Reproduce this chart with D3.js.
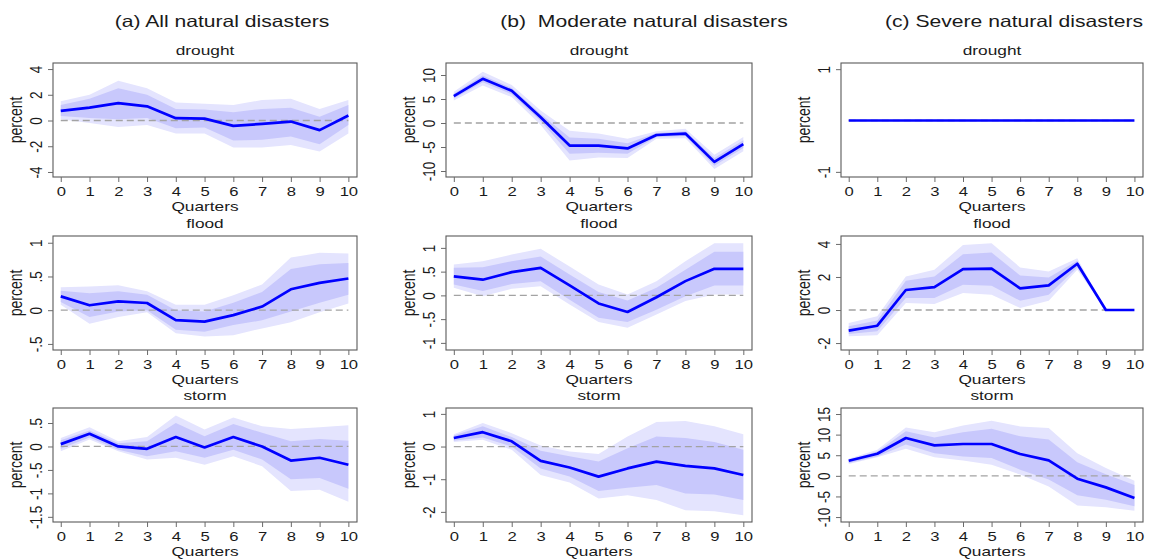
<!DOCTYPE html>
<html>
<head>
<meta charset="utf-8">
<script src="https://cdn.jsdelivr.net/npm/d3@7/dist/d3.min.js"></script>
<style>
    body { margin: 0; background: #fff; }
    svg text { font-family: "Liberation Sans", Arial, sans-serif; fill: #1a1a1a; }
</style>
</head>
<body>
<div id="chart"></div>
<script>
var quarters = [0, 1, 2, 3, 4, 5, 6, 7, 8, 9, 10];

var columnTitles = ['(a) All natural disasters', '(b)  Moderate natural disasters', '(c) Severe natural disasters'];
var rowTitles = ['drought', 'flood', 'storm'];

// (a) All natural disasters
var allDroughtIrf  = [0.75, 1.0, 1.35, 1.1, 0.18, 0.15, -0.42, -0.26, -0.08, -0.75, 0.39];
var allDroughtHi90 = [1.5, 2.0, 3.1, 2.5, 1.4, 1.3, 1.2, 1.6, 1.7, 0.9, 1.6];
var allDroughtHi68 = [1.2, 1.7, 2.5, 2.0, 0.9, 0.85, 0.65, 0.9, 1.0, 0.3, 1.2];
var allDroughtLo68 = [0.35, 0.2, 0.1, 0.2, -0.6, -0.55, -1.55, -1.5, -1.25, -1.85, -0.35];
var allDroughtLo90 = [0.1, -0.2, -0.5, -0.35, -1.0, -1.0, -2.1, -2.1, -1.9, -2.4, -1.0];

var allFloodIrf  = [0.205, 0.073, 0.13, 0.107, -0.147, -0.17, -0.073, 0.054, 0.31, 0.405, 0.47];
var allFloodHi90 = [0.34, 0.35, 0.37, 0.28, 0.08, 0.08, 0.22, 0.38, 0.78, 0.85, 0.84];
var allFloodHi68 = [0.29, 0.25, 0.28, 0.23, 0.0, -0.02, 0.11, 0.27, 0.61, 0.68, 0.70];
var allFloodLo68 = [0.12, -0.10, -0.02, 0.0, -0.29, -0.32, -0.22, -0.15, -0.02, 0.11, 0.23];
var allFloodLo90 = [0.08, -0.20, -0.10, -0.03, -0.34, -0.39, -0.37, -0.27, -0.18, -0.03, 0.10];

var allStormIrf  = [0.05, 0.27, 0.0, -0.05, 0.2, -0.02, 0.2, 0.0, -0.3, -0.24, -0.39];
var allStormHi90 = [0.18, 0.41, 0.11, 0.2, 0.66, 0.36, 0.62, 0.43, 0.37, 0.41, 0.45];
var allStormHi68 = [0.13, 0.34, 0.07, 0.11, 0.5, 0.22, 0.48, 0.29, 0.11, 0.16, 0.12];
var allStormLo68 = [-0.05, 0.19, -0.07, -0.21, -0.1, -0.24, -0.07, -0.28, -0.7, -0.67, -0.9];
var allStormLo90 = [-0.1, 0.15, -0.1, -0.28, -0.24, -0.39, -0.21, -0.42, -0.95, -0.92, -1.18];

// (b) Moderate natural disasters
var modDroughtIrf  = [5.6, 9.2, 6.7, 1.2, -4.7, -4.7, -5.3, -2.5, -2.2, -8.1, -4.4];
var modDroughtHi90 = [6.5, 10.7, 7.9, 2.6, -1.6, -2.2, -3.3, -1.7, -1.2, -6.6, -2.9];
var modDroughtHi68 = [6.1, 9.9, 7.3, 1.9, -3.0, -3.3, -4.2, -2.1, -1.7, -7.3, -3.6];
var modDroughtLo68 = [5.1, 8.5, 6.0, 0.4, -6.4, -6.2, -6.4, -2.9, -2.7, -8.9, -5.2];
var modDroughtLo90 = [4.7, 7.8, 5.4, -0.4, -7.8, -7.2, -7.3, -3.3, -3.2, -9.6, -5.9];

var modFloodIrf  = [0.40, 0.33, 0.49, 0.58, 0.21, -0.17, -0.35, -0.04, 0.30, 0.56, 0.56];
var modFloodHi90 = [0.65, 0.72, 0.86, 0.98, 0.61, 0.23, 0.02, 0.30, 0.72, 1.10, 1.10];
var modFloodHi68 = [0.58, 0.59, 0.72, 0.82, 0.44, 0.07, -0.11, 0.16, 0.54, 0.92, 0.92];
var modFloodLo68 = [0.23, 0.09, 0.24, 0.30, -0.09, -0.47, -0.56, -0.30, -0.02, 0.21, 0.21];
var modFloodLo90 = [0.16, -0.02, 0.14, 0.19, -0.19, -0.56, -0.68, -0.40, -0.12, 0.02, 0.02];

var modStormIrf  = [0.26, 0.44, 0.16, -0.44, -0.64, -0.92, -0.67, -0.46, -0.59, -0.67, -0.87];
var modStormHi90 = [0.38, 0.72, 0.41, 0.03, -0.15, -0.23, 0.31, 0.75, 0.78, 0.62, 0.38];
var modStormHi68 = [0.34, 0.62, 0.29, -0.13, -0.30, -0.46, -0.05, 0.31, 0.26, 0.14, -0.10];
var modStormLo68 = [0.18, 0.28, 0.0, -0.67, -0.92, -1.36, -1.26, -1.18, -1.44, -1.47, -1.64];
var modStormLo90 = [0.14, 0.21, -0.10, -0.87, -1.10, -1.59, -1.49, -1.64, -1.95, -1.98, -2.10];

// (c) Severe natural disasters
var sevDroughtIrf = [0, 0, 0, 0, 0, 0, 0, 0, 0, 0, 0];

var sevFloodIrf  = [-1.25, -0.95, 1.21, 1.39, 2.47, 2.5, 1.31, 1.49, 2.8, 0, 0];
var sevFloodHi90 = [-0.78, -0.38, 2.03, 2.43, 3.94, 4.04, 2.58, 2.33, 3.14, 0, 0];
var sevFloodHi68 = [-0.99, -0.64, 1.77, 2.03, 3.38, 3.48, 2.09, 1.97, 2.98, 0, 0];
var sevFloodLo68 = [-1.45, -1.29, 0.72, 0.72, 1.53, 1.47, 0.56, 0.93, 2.58, 0, 0];
var sevFloodLo90 = [-1.59, -1.53, 0.42, 0.36, 1.03, 0.93, 0.12, 0.56, 2.43, 0, 0];

var sevStormIrf  = [3.67, 5.37, 9.17, 7.4, 7.72, 7.72, 5.29, 3.75, -0.7, -2.8, -5.4];
var sevStormHi90 = [4.16, 6.33, 11.75, 10.55, 12.24, 13.38, 12.0, 11.6, 5.5, 1.9, -1.2];
var sevStormHi68 = [3.9, 5.9, 10.8, 9.3, 10.6, 11.4, 9.6, 8.8, 3.3, 0.4, -2.2];
var sevStormLo68 = [3.1, 4.7, 7.6, 5.5, 4.7, 4.3, 1.5, -0.9, -4.7, -5.8, -7.4];
var sevStormLo90 = [2.9, 4.5, 6.6, 4.5, 3.7, 2.7, 0.3, -2.6, -7.2, -7.6, -8.5];

// y tick values per panel
var allDroughtTicks = [-4, -2, 0, 2, 4];
var allFloodTicks = [-0.5, 0, 0.5, 1];
var allStormTicks = [-1.5, -1, -0.5, 0, 0.5];
var modDroughtTicks = [-10, -5, 0, 5, 10];
var modFloodTicks = [-1, -0.5, 0, 0.5, 1];
var modStormTicks = [-2, -1, 0, 1];
var sevDroughtTicks = [-1, 1];
var sevFloodTicks = [-2, 0, 2, 4];
var sevStormTicks = [-10, -5, 0, 5, 10, 15];

var Irf = Irf || {};

Irf.Panel = function() {
    'use strict';

    var width = 304,
        height = 114,
        xDomain = [-0.27, 10.3],
        stretch = 1.28;   // the source figure is wider than tall, text included

    function chart(selection) {
        selection.each(function(p) {
            var g = d3.select(this);

            var x = d3.scaleLinear().domain(xDomain).range([0, width]),
                y = d3.scaleLinear().domain(p.yDomain).range([height, 0]);

            var band = function(lo, hi) {
                return d3.area()
                    .x(function(d, i) { return x(quarters[i]); })
                    .y0(function(d, i) { return y(lo[i]); })
                    .y1(function(d, i) { return y(hi[i]); })(quarters);
            };

            if (p.hi90) {
                g.append('path').attr('d', band(p.lo90, p.hi90)).attr('fill', '#e4e4fe');
                g.append('path').attr('d', band(p.lo68, p.hi68)).attr('fill', '#c8c8fc');
            }

            g.append('line')
                .attr('x1', x(0)).attr('x2', x(10))
                .attr('y1', y(0)).attr('y2', y(0))
                .attr('stroke', '#a3a3a3')
                .attr('stroke-width', 1.3)
                .attr('stroke-dasharray', '7,4');

            g.append('path')
                .datum(p.irf)
                .attr('fill', 'none')
                .attr('stroke', '#0000ff')
                .attr('stroke-width', 2.7)
                .attr('stroke-linejoin', 'round')
                .attr('d', d3.line()
                    .x(function(d, i) { return x(quarters[i]); })
                    .y(function(d) { return y(d); }));

            g.append('rect')
                .attr('width', width).attr('height', height)
                .attr('fill', 'none')
                .attr('stroke', '#5a5a5a')
                .attr('stroke-width', 1.1);

            // Axes
            var xAxis = g.append('g')
                .attr('transform', 'translate(0,' + height + ')')
                .call(d3.axisBottom(x).tickValues(quarters).tickSize(5).tickPadding(5));

            var yAxis = g.append('g')
                .call(d3.axisLeft(y).tickValues(p.yTicks).tickSize(5).tickFormat(chart.fmt));

            [xAxis, yAxis].forEach(function(a) {
                a.select('.domain').remove();
                a.selectAll('line').attr('stroke', '#6a6a6a');
                a.selectAll('text').attr('font-size', 13.5).attr('fill', '#1a1a1a');
            });

            xAxis.selectAll('text')
                .attr('font-size', 13)
                .attr('transform', 'scale(' + stretch + ',1)');

            yAxis.selectAll('text')
                .attr('x', null)
                .attr('dy', null)
                .attr('text-anchor', 'middle')
                .attr('transform', 'translate(-11,0) scale(' + stretch + ',1) rotate(-90)');

            // Labels
            g.append('text')
                .attr('transform', 'translate(' + width / 2 + ',-8) scale(' + stretch + ',1)')
                .attr('text-anchor', 'middle')
                .attr('font-size', 13.5)
                .text(p.title);

            g.append('text')
                .attr('transform', 'translate(' + width / 2 + ',' + (height + 34) + ') scale(' + stretch + ',1)')
                .attr('text-anchor', 'middle')
                .attr('font-size', 13.5)
                .text('Quarters');

            g.append('text')
                .attr('transform', 'translate(-31,' + height / 2 + ') scale(' + stretch + ',1) rotate(-90)')
                .attr('text-anchor', 'middle')
                .attr('font-size', 14)
                .text('percent');
        });
    }

    // Utils

    chart.fmt = function(v) {
        return String(v).replace(/^(-?)0\./, '$1.');
    };

    chart.width = function(_) {
        if (!arguments.length) { return width; }
        width = _;
        return chart;
    };

    chart.stretch = function() {
        return stretch;
    };

    return chart;
};

(function() {
    'use strict';

    var W = 1150, H = 560;
    var colLeft = [53, 446, 841],
        colWidth = [304, 306, 302],
        rowTop = [63, 236, 408];

    var panels = [
        {col: 0, row: 0, irf: allDroughtIrf, hi90: allDroughtHi90, hi68: allDroughtHi68, lo68: allDroughtLo68, lo90: allDroughtLo90, yTicks: allDroughtTicks, yDomain: [-4.39, 4.47]},
        {col: 0, row: 1, irf: allFloodIrf, hi90: allFloodHi90, hi68: allFloodHi68, lo68: allFloodLo68, lo90: allFloodLo90, yTicks: allFloodTicks, yDomain: [-0.59, 1.10]},
        {col: 0, row: 2, irf: allStormIrf, hi90: allStormHi90, hi68: allStormHi68, lo68: allStormLo68, lo90: allStormLo90, yTicks: allStormTicks, yDomain: [-1.61, 0.82]},
        {col: 1, row: 0, irf: modDroughtIrf, hi90: modDroughtHi90, hi68: modDroughtHi68, lo68: modDroughtLo68, lo90: modDroughtLo90, yTicks: modDroughtTicks, yDomain: [-11.25, 12.5]},
        {col: 1, row: 1, irf: modFloodIrf, hi90: modFloodHi90, hi68: modFloodHi68, lo68: modFloodLo68, lo90: modFloodLo90, yTicks: modFloodTicks, yDomain: [-1.15, 1.25]},
        {col: 1, row: 2, irf: modStormIrf, hi90: modStormHi90, hi68: modStormHi68, lo68: modStormLo68, lo90: modStormLo90, yTicks: modStormTicks, yDomain: [-2.31, 1.18]},
        {col: 2, row: 0, irf: sevDroughtIrf, yTicks: sevDroughtTicks, yDomain: [-1.1, 1.12]},
        {col: 2, row: 1, irf: sevFloodIrf, hi90: sevFloodHi90, hi68: sevFloodHi68, lo68: sevFloodLo68, lo90: sevFloodLo90, yTicks: sevFloodTicks, yDomain: [-2.42, 4.48]},
        {col: 2, row: 2, irf: sevStormIrf, hi90: sevStormHi90, hi68: sevStormHi68, lo68: sevStormLo68, lo90: sevStormLo90, yTicks: sevStormTicks, yDomain: [-11.2, 16.46]}
    ];
    panels.forEach(function(p) { p.title = rowTitles[p.row]; });

    var svg = d3.select('#chart').append('svg')
        .attr('width', W)
        .attr('height', H);

    var colCenter = [222, 644, 1014];
    var probe = Irf.Panel();

    svg.selectAll('text.col-title')
        .data(columnTitles)
        .enter().append('text')
        .attr('class', 'col-title')
        .attr('transform', function(d, i) { return 'translate(' + colCenter[i] + ',27) scale(' + probe.stretch() + ',1)'; })
        .attr('text-anchor', 'middle')
        .attr('font-size', 16.5)
        .style('white-space', 'pre')
        .text(function(d) { return d; });

    panels.forEach(function(p) {
        svg.append('g')
            .attr('transform', 'translate(' + colLeft[p.col] + ',' + rowTop[p.row] + ')')
            .datum(p)
            .call(Irf.Panel().width(colWidth[p.col]));
    });
})();
</script>
</body>
</html>
